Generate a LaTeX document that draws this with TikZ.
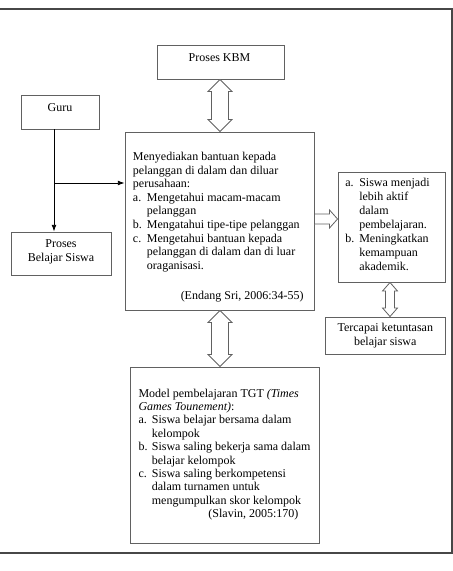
\documentclass[tikz,border=0pt]{standalone}
\usepackage{fontspec}
\setmainfont{Liberation Serif}
\usetikzlibrary{fit,calc,arrows.meta}
\definecolor{boxgray}{gray}{0.38}
\definecolor{framegray}{gray}{0.28}
\newcommand\lbl[1]{\makebox[10.5pt][l]{#1}}
\newcommand\ind{\hspace*{10.5pt}}
\newcommand\lblb[1]{\makebox[10pt][l]{#1}}
\newcommand\indb{\hspace*{10pt}}
% vertical double block arrow: #1 axis coordinate, #2 upper node, #3 lower node,
% #4 shaft half width, #5 head half width, #6 head length
\newcommand\dblV[6]{%
  \draw[barrow] let \p1=(#2.south), \p2=(#3.north), \p3=(#1) in
    (\x3,\y1) -- (\x3+#5,\y1-#6) -- (\x3+#4,\y1-#6) -- (\x3+#4,\y2+#6)
    -- (\x3+#5,\y2+#6) -- (\x3,\y2) -- (\x3-#5,\y2+#6) -- (\x3-#4,\y2+#6)
    -- (\x3-#4,\y1-#6) -- (\x3-#5,\y1-#6) -- cycle;}
\tikzset{
  box/.style={draw=boxgray, line width=0.7pt, inner sep=0pt},
  txt/.style={inner sep=0pt, font=\fontsize{9pt}{10pt}\selectfont, anchor=base west},
  ctxt/.style={inner sep=0pt, font=\fontsize{9pt}{10pt}\selectfont, anchor=base},
  rtxt/.style={inner sep=0pt, font=\fontsize{9pt}{10pt}\selectfont, anchor=base east},
  conn/.style={draw=black, line width=0.6pt, -{Latex[length=5pt,width=3.6pt]}},
  barrow/.style={draw=boxgray, line width=0.6pt, fill=white, line join=miter},
  frameline/.style={draw=framegray, line width=1pt}
}
\begin{document}
\begin{tikzpicture}[x=0.75pt, y=-0.75pt]
\useasboundingbox (0,0) rectangle (453,571);
% outer frame
\draw[frameline] (0,9) -- (452,9) -- (452,553) -- (0,553);

% boxes
\node[box, fit={(157,45) (284,79)}] (kbm) {};
\node[box, fit={(21,95) (99,129)}] (guru) {};
\node[box, fit={(11,232) (111,275)}] (pbs) {};
\node[box, fit={(125,132) (314,310)}] (main) {};
\node[box, fit={(338,172) (445,282)}] (rb) {};
\node[box, fit={(325,317) (445,354)}] (tk) {};
\node[box, fit={(130,367) (319,543)}] (tgt) {};

% texts
\node[ctxt] (tkbm) at (219.5,61.7) {Proses KBM};
\node[ctxt] (tguru) at (60,111) {Guru};
\node[ctxt] (tpbs1) at (61,247.3) {Proses};
\node[ctxt] (tpbs2) at (61,261.7) {Belajar Siswa};
\node[ctxt] (ttk1) at (385.3,331) {Tercapai ketuntasan};
\node[ctxt] (ttk2) at (385.3,345) {belajar siswa};

\foreach \t [count=\i from 0] in {%
  {Menyediakan bantuan kepada},
  {pelanggan di dalam dan diluar},
  {perusahaan:},
  {\lbl{a.}Mengetahui macam-macam},
  {\ind pelanggan},
  {\lbl{b.}Mengatahui tipe-tipe pelanggan},
  {\lbl{c.}Mengetahui bantuan kepada},
  {\ind pelanggan di dalam dan di luar},
  {\ind oraganisasi.}}
  \node[txt] (m\i) at (132.7,160.5+13.6*\i) {\t};
\node[rtxt] (mref) at (304,299) {(Endang Sri, 2006:34-55)};

\foreach \t [count=\i from 0] in {%
  {\lbl{a.}Siswa menjadi},
  {\ind lebih aktif},
  {\ind dalam},
  {\ind pembelajaran.},
  {\lbl{b.}Meningkatkan},
  {\ind kemampuan},
  {\ind akademik.}}
  \node[txt] (r\i) at (345,186+14*\i) {\t};

\foreach \t [count=\i from 0] in {%
  {Model pembelajaran TGT \textit{(Times}},
  {\textit{Games Tounement)}:},
  {\lblb{a.}Siswa belajar bersama dalam},
  {\indb kelompok},
  {\lblb{b.}Siswa saling bekerja sama dalam},
  {\indb belajar kelompok},
  {\lblb{c.}Siswa saling berkompetensi},
  {\indb dalam turnamen untuk},
  {\indb mengumpulkan skor kelompok}}
  \node[txt] (b\i) at (138.3,397+13.4*\i) {\t};
\node[rtxt] (bref) at (298.7,517.6) {(Slavin, 2005:170)};

% connectors from Guru
\coordinate (j) at (54,183);
\draw[conn] (j |- guru.south) -- (j |- pbs.north);
\draw[conn] (j) -- (j -| main.west);

% block arrows
\coordinate (ax1) at (220,0);
\coordinate (ax2) at (390,0);
\coordinate (ax3) at (0,219);
\dblV{ax1}{kbm}{main}{6.4pt}{9pt}{9pt}
\dblV{ax1}{main}{tgt}{6.4pt}{9pt}{9pt}
\dblV{ax2}{rb}{tk}{3.4pt}{5.6pt}{6.4pt}
\draw[barrow] let \p1=(main.east), \p2=(rb.west), \p3=(ax3) in
  (\x1,\y3+3.75pt) -- (\x2-6pt,\y3+3.75pt) -- (\x2-6pt,\y3+6.75pt) -- (\x2,\y3)
  -- (\x2-6pt,\y3-6.75pt) -- (\x2-6pt,\y3-3.75pt) -- (\x1,\y3-3.75pt) -- cycle;
\end{tikzpicture}
\end{document}
